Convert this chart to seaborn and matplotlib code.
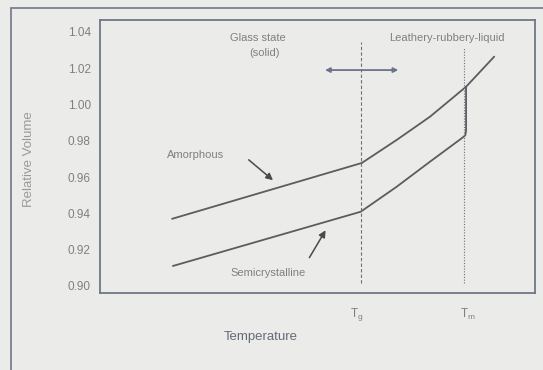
import matplotlib
matplotlib.use('Agg')
import matplotlib.pyplot as plt
import seaborn as sns
import pandas as pd
from matplotlib.lines import Line2D

# 曲线数据（横轴为刻度序号，纵轴为相对体积）
amorph_x = [1.81, 6.60, 7.48, 8.32, 9.23, 9.94]
amorph_y = [0.937, 0.9678, 0.9805, 0.9933, 1.0098, 1.0264]

semi_x = [1.83, 6.57, 7.48, 8.32, 9.12, 9.21, 9.23, 9.23]
semi_y = [0.911, 0.9409, 0.9547, 0.9685, 0.9814, 0.9830, 0.9855, 1.0098]

y_ticks = [0.90, 0.92, 0.94, 0.96, 0.98, 1.00, 1.02, 1.04]
x_ticks = [1, 2, 3, 4, 5, 6, 7, 8, 9, 10]

tg_x = 6.58
tm_x = 9.19

bg = '#ebebe9'
spine_c = '#6e7686'
line_c = '#5c5c5c'
text_c = '#808080'

sns.set_style('white')
plt.rcParams['font.family'] = ['Liberation Sans', 'DejaVu Sans']

fig = plt.figure(figsize=(5.43, 3.70), dpi=100, facecolor=bg)
ax = fig.add_axes([100.4 / 543, 77 / 370, 434.6 / 543, 273 / 370])
ax.set_facecolor(bg)

df_a = pd.DataFrame({'t': amorph_x, 'v': amorph_y})
df_s = pd.DataFrame({'t': semi_x, 'v': semi_y})
sns.lineplot(x='t', y='v', data=df_a, sort=False, estimator=None, color=line_c,
             linewidth=1.3, ax=ax)
sns.lineplot(x='t', y='v', data=df_s, sort=False, estimator=None, color=line_c,
             linewidth=1.3, ax=ax)

# Tg 和 Tm 竖线
ax.plot([tg_x, tg_x], [0.9016, 1.0345], color='#6a7080', linestyle=(0, (3, 2)), linewidth=0.8)
ax.plot([tm_x, tm_x], [0.9016, 1.0312], color='#6a7080', linestyle=(0, (1, 1.5)), linewidth=0.8)

ax.set_xlim(0, 10.97)
ax.set_ylim(0.8961, 1.0466)
ax.set_xticks(x_ticks)
ax.set_xticklabels([])
ax.set_yticks(y_ticks)
ax.set_yticklabels([f'{v:.2f}' for v in y_ticks])
ax.tick_params(direction='in', length=3, width=0.8, color='#909090', labelsize=8.5,
               labelcolor=text_c, pad=7)
for s in ax.spines.values():
    s.set_color(spine_c)
    s.set_linewidth(1.3)
ax.set_xlabel('')
ax.set_ylabel('')

# 文字注释
ax.text(2.41, 0.9722, 'Amorphous', fontsize=8, color=text_c, ha='center', va='center')
ax.text(4.23, 0.9071, 'Semicrystalline', fontsize=8, color=text_c, ha='center', va='center')
ax.text(3.98, 1.0367, 'Glass state', fontsize=8, color=text_c, ha='center', va='center')
ax.text(4.15, 1.0284, '(solid)', fontsize=8, color=text_c, ha='center', va='center')
ax.text(8.75, 1.0367, 'Leathery-rubbery-liquid', fontsize=8, color=text_c, ha='center', va='center')
ax.text(tg_x - 0.1, 0.8845, r'T$_\mathregular{g}$', fontsize=8.5, color=text_c,
        ha='center', va='center', clip_on=False)
ax.text(tm_x + 0.08, 0.8845, r'T$_\mathregular{m}$', fontsize=8.5, color=text_c,
        ha='center', va='center', clip_on=False)

# 箭头
ax.annotate('', xy=(4.41, 0.9573), xytext=(3.69, 0.9705),
            arrowprops=dict(arrowstyle='-|>', color='#4a4a4a', lw=1.1,
                            mutation_scale=10))
ax.annotate('', xy=(5.72, 0.932), xytext=(5.24, 0.9143),
            arrowprops=dict(arrowstyle='-|>', color='#4a4a4a', lw=1.1,
                            mutation_scale=10))
ax.annotate('', xy=(7.59, 1.019), xytext=(5.60, 1.019),
            arrowprops=dict(arrowstyle='<|-|>', color='#6a7488', lw=1.3,
                            mutation_scale=7))

fig.text(261 / 543, 1 - 337 / 370, 'Temperature', fontsize=9.5, color='#646a78',
         ha='center', va='center')
fig.text(29 / 543, 1 - 159 / 370, 'Relative Volume', fontsize=9.5, color='#9a9a9a',
         ha='center', va='center', rotation=90)

# 外框（左边和上边）
fig.add_artist(Line2D([11 / 543, 11 / 543], [0, 1 - 8 / 370], color='#7a8090', linewidth=1.3))
fig.add_artist(Line2D([11 / 543, 1], [1 - 8 / 370, 1 - 8 / 370], color='#7a8090', linewidth=1.3))

plt.savefig('out.png', dpi=100, facecolor=bg)
plt.close()
